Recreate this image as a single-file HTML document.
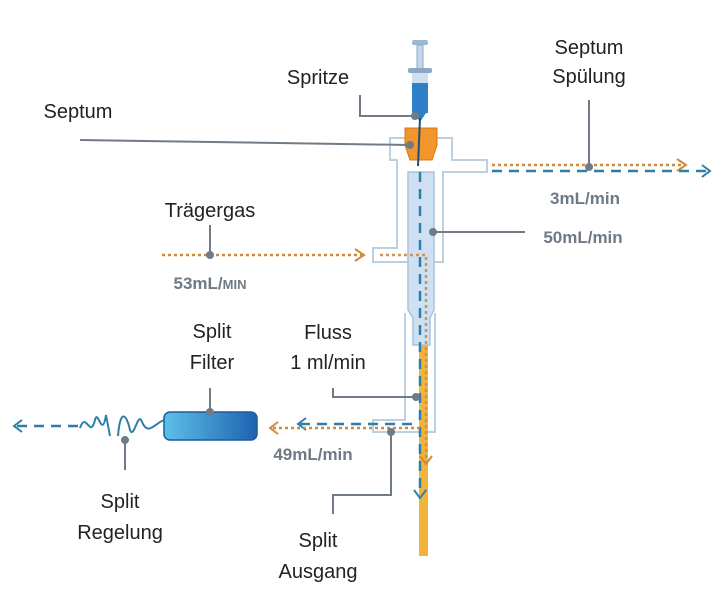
<!DOCTYPE html>
<html><head><meta charset="utf-8"><style>
html,body{margin:0;padding:0;background:#fff;width:723px;height:600px;overflow:hidden}
svg{display:block}
.t{font-family:"Liberation Sans",sans-serif;font-size:20px;fill:#222;text-anchor:middle}
.g{font-family:"Liberation Sans",sans-serif;font-size:17px;font-weight:bold;fill:#6f7a84;text-anchor:middle}
.ld{stroke:#6f7b86;stroke-width:2;fill:none}
.dot{fill:#6f7b86}
.bd{stroke:#2e7fa8;stroke-width:2.5;stroke-dasharray:10 7;fill:none}
.od{stroke:#d08a3c;stroke-width:2.5;stroke-dasharray:3 3;fill:none}
.ol{fill:none;stroke:#bcd0e0;stroke-width:2}
</style></head><body>
<svg width="723" height="600" viewBox="0 0 723 600">
<defs>
<linearGradient id="fg" x1="0" x2="1"><stop offset="0" stop-color="#5cc0e8"/><stop offset="1" stop-color="#1f62b0"/></linearGradient>
</defs>
<!-- inlet outline -->
<path class="ol" d="M390 138 H452 V160 H487 V172 H443 V262 H373 V248 H397 V160 H390 Z"/>
<path class="ol" d="M405 313 V420 H373 V432 H435 V313"/>
<!-- solid orange column -->
<rect x="419" y="340" width="9" height="216" fill="#f1b43a"/>
<!-- liner -->
<path d="M408 172 H434 V310 L430 318 V345 H413 V318 L408 310 Z" fill="#cfe0f3" stroke="#a9c2de" stroke-width="1.5"/>
<!-- syringe -->
<rect x="412" y="40" width="16" height="5" rx="2" fill="#9ab8d4"/>
<rect x="417" y="45" width="6" height="24" fill="#c3d7ea" stroke="#8aa8c6"/>
<rect x="408" y="68" width="24" height="5" rx="2" fill="#8aa8c6"/>
<rect x="412" y="73" width="16" height="40" fill="#2f80c9"/>
<rect x="412" y="73" width="16" height="10" fill="#cfe0f3"/>
<path d="M414 113 L420 122 L426 113Z" fill="#2f80c9"/>
<!-- septum -->
<path d="M405 128 H437 V145 L432 160 H410 L405 145Z" fill="#f0962a" stroke="#d07818"/>
<line x1="420" y1="118" x2="418" y2="166" stroke="#1b4f80" stroke-width="2"/>
<!-- flows -->
<path class="od" d="M162 255 H362"/><path d="M355 249 L364 255 L355 261" fill="none" stroke="#d08a3c" stroke-width="2"/>
<path class="bd" d="M420 172 V495"/><path d="M414 490 L420 498 L426 490" fill="none" stroke="#2e7fa8" stroke-width="2"/>
<path class="od" d="M380 255 H426 V462" style="stroke:#c8965a"/><path d="M420 456 L426 464 L432 456" fill="none" stroke="#d08a3c" stroke-width="2"/>
<path class="od" d="M492 165 H684"/><path d="M677 159 L686 165 L677 171" fill="none" stroke="#d08a3c" stroke-width="2"/>
<path class="bd" d="M492 171 H708"/><path d="M702 165 L710 171 L702 177" fill="none" stroke="#2e7fa8" stroke-width="2"/>
<path class="bd" d="M412 424 H300"/><path d="M306 418 L298 424 L306 430" fill="none" stroke="#2e7fa8" stroke-width="2"/>
<path class="od" d="M420 428 H272"/><path d="M278 422 L270 428 L278 434" fill="none" stroke="#d08a3c" stroke-width="2"/>
<!-- filter -->
<rect x="164" y="412" width="93" height="28" rx="6" fill="url(#fg)" stroke="#1e5a9a" stroke-width="1.5"/>
<!-- spring -->
<path d="M80 428 C86 410 90 440 95 420 C98 408 102 440 106 415 L110 436 M118 436 C120 410 126 412 130 430 C134 440 138 410 142 422 C148 436 154 424 164 420" fill="none" stroke="#2e7fa8" stroke-width="2"/>
<path class="bd" d="M78 426 H16"/><path d="M22 420 L14 426 L22 432" fill="none" stroke="#2e7fa8" stroke-width="2"/>
<!-- leader lines -->
<path class="ld" d="M360 95 V116 H415"/><circle class="dot" cx="415" cy="116" r="4"/>
<path class="ld" d="M80 140 L410 145"/><circle class="dot" cx="410" cy="145" r="4"/>
<path class="ld" d="M589 100 V167"/><circle class="dot" cx="589" cy="167" r="4"/>
<path class="ld" d="M433 232 H525"/><circle class="dot" cx="433" cy="232" r="4"/>
<path class="ld" d="M210 225 V255"/><circle class="dot" cx="210" cy="255" r="4"/>
<path class="ld" d="M210 388 V412"/><circle class="dot" cx="210" cy="412" r="4"/>
<path class="ld" d="M333 388 V397 H416"/><circle class="dot" cx="416" cy="397" r="4"/>
<path class="ld" d="M125 470 V440"/><circle class="dot" cx="125" cy="440" r="4"/>
<path class="ld" d="M333 514 V495 H391 V432"/><circle class="dot" cx="391" cy="432" r="4"/>
<!-- text -->
<text class="t" x="318" y="84">Spritze</text>
<text class="t" x="589" y="54">Septum</text>
<text class="t" x="589" y="83">Spülung</text>
<text class="t" x="78" y="118">Septum</text>
<text class="t" x="210" y="217">Trägergas</text>
<text class="g" x="210" y="289">53mL/<tspan font-size="13">MIN</tspan></text>
<text class="g" x="585" y="204">3mL/min</text>
<text class="g" x="583" y="243">50mL/min</text>
<text class="t" x="212" y="338">Split</text>
<text class="t" x="212" y="369">Filter</text>
<text class="t" x="328" y="339">Fluss</text>
<text class="t" x="328" y="369">1 ml/min</text>
<text class="g" x="313" y="460">49mL/min</text>
<text class="t" x="120" y="508">Split</text>
<text class="t" x="120" y="539">Regelung</text>
<text class="t" x="318" y="547">Split</text>
<text class="t" x="318" y="578">Ausgang</text>
</svg>
</body></html>
